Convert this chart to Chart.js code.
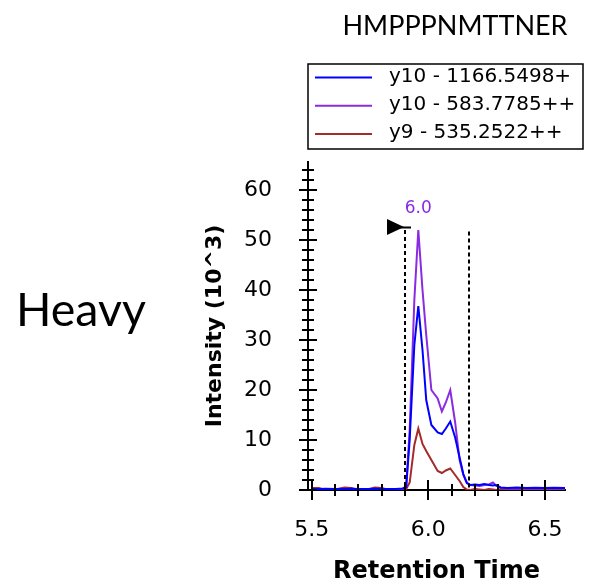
<!DOCTYPE html>
<html>
<head>
<meta charset="utf-8">
<script src="https://cdn.jsdelivr.net/npm/chart.js@4.4.1/dist/chart.umd.min.js"></script>
<style>
  body { margin: 0; background: #fff; width: 595px; height: 587px; position: relative; overflow: hidden; }
  #xic { position: absolute; left: 0; top: 0; }
  .caption { position: absolute; font-family: Lato, sans-serif; color: #000; line-height: 1; white-space: nowrap; }
  #peptide { left: 455px; top: 11px; font-size: 27px; transform: translateX(-50%); }
  #label { left: 16px; top: 285px; font-size: 46.5px; }
</style>
</head>
<body>
<canvas id="xic" width="595" height="587"></canvas>
<div class="caption" id="peptide">HMPPPNMTTNER</div>
<div class="caption" id="label">Heavy</div>
<script>
// retention time (min) of each scan
const times = [5.50, 5.53, 5.56, 5.60, 5.64, 5.67, 5.70, 5.74, 5.77, 5.80, 5.83, 5.86, 5.89,
  5.905, 5.92, 5.94, 5.957, 5.975, 5.991, 6.013, 6.04, 6.058, 6.075, 6.094, 6.115, 6.134,
  6.15, 6.165, 6.18, 6.20, 6.22, 6.24, 6.26, 6.277, 6.29, 6.31, 6.34, 6.38, 6.42, 6.46,
  6.50, 6.54, 6.586];

// intensities in 10^3
const y10Single = [0.2, 0.2, 0.25, 0.2, 0.2, 0.25, 0.2, 0.2, 0.25, 0.2, 0.2, 0.2, 0.3,
  0.6, 10, 29, 36.8, 28, 18, 13, 11.5, 11.2, 12.3, 13.7, 10.5, 6.5,
  3.2, 1.4, 1.0, 1.1, 1.0, 1.2, 1.0, 0.9, 1.0, 0.5, 0.4, 0.5, 0.4, 0.45,
  0.4, 0.45, 0.4];
const y10Double = [0.3, 0.1, 0.1, 0.15, 0.1, 0.1, 0.1, 0.15, 0.1, 0.1, 0.1, 0.15, 0.2,
  0.8, 12, 38, 52, 40, 31, 20, 18.3, 15.7, 17.5, 20, 13.5, 6,
  3.0, 1.5, 1.0, 0.9, 0.8, 1.0, 1.1, 1.5, 0.9, 0.4, 0.3, 0.3, 0.35, 0.3,
  0.3, 0.35, 0.3];
const y9Double = [0.4, 0.4, 0.0, 0.1, 0.5, 0.4, 0.0, 0.1, 0.5, 0.4, 0.0, 0.0, 0.1,
  0.2, 1.5, 9, 12.3, 9.2, 7.8, 6.0, 3.8, 3.4, 3.9, 4.3, 3.0, 1.8,
  0.6, 0.1, 0, 0.2, 0.1, 0, 0.2, 0.1, 0, 0.1, 0, 0.1, 0, 0.1,
  0, 0.1, 0];

const seriesLabels = ["y10 - 1166.5498+", "y10 - 583.7785++", "y9 - 535.2522++"];
const seriesValues = [y10Single, y10Double, y9Double];
const seriesColors = ["#0000ff", "#8a2be2", "#a52a2a"];

// integration boundaries: time and height of the dashed markers
const boundaryTimes = [5.9, 6.175];
const boundaryHeights = [52, 51.7];

const xMajorTicks = [5.5, 6.0, 6.5];
const yMajorTicks = [0, 10, 20, 30, 40, 50, 60];

const FONT = "'DejaVu Sans', sans-serif";

// crossing tick marks on both axes (major + minor)
const axisTicks = {
  id: "axisTicks",
  afterDatasetsDraw(chart) {
    const { ctx, chartArea, scales: { x, y } } = chart;
    ctx.save();
    ctx.strokeStyle = "#000";
    ctx.lineWidth = 2;
    ctx.beginPath();
    for (let v = 0; v <= y.max; v += 2) {
      const py = Math.round(y.getPixelForValue(v));
      const len = v % 10 === 0 ? 9 : 6;
      ctx.moveTo(chartArea.left - len, py);
      ctx.lineTo(chartArea.left + len, py);
    }
    for (let i = 55; i <= 65; i++) {
      const px = Math.round(x.getPixelForValue(i / 10));
      const len = i % 5 === 0 ? 10 : 6;
      ctx.moveTo(px, chartArea.bottom - len);
      ctx.lineTo(px, chartArea.bottom + len);
    }
    ctx.stroke();
    ctx.restore();
  }
};

// dashed peak boundaries, the flag on the start boundary and the apex time label
const peakMarks = {
  id: "peakMarks",
  afterDatasetsDraw(chart) {
    const { ctx, scales: { x, y } } = chart;
    ctx.save();
    ctx.strokeStyle = "#000";
    ctx.lineWidth = 2;
    ctx.setLineDash([4, 3]);
    boundaryTimes.forEach((t, i) => {
      const px = Math.round(x.getPixelForValue(t));
      ctx.beginPath();
      ctx.moveTo(px, y.getPixelForValue(boundaryHeights[i]));
      ctx.lineTo(px, y.getPixelForValue(0));
      ctx.stroke();
    });
    ctx.setLineDash([]);

    // flag
    const fx = x.getPixelForValue(boundaryTimes[0]);
    const fy = y.getPixelForValue(boundaryHeights[0]);
    ctx.fillStyle = "#000";
    ctx.beginPath();
    ctx.moveTo(fx - 18, fy - 11);
    ctx.lineTo(fx - 1, fy - 3);
    ctx.lineTo(fx - 18, fy + 5);
    ctx.closePath();
    ctx.fill();
    ctx.beginPath();
    ctx.moveTo(fx - 6, fy - 2.5);
    ctx.lineTo(fx + 6, fy - 2.5);
    ctx.stroke();

    // apex label from the tallest trace
    let best = 0, bestSeries = 0;
    seriesValues.forEach((vals, s) => vals.forEach((v, i) => {
      if (v > seriesValues[bestSeries][best]) { best = i; bestSeries = s; }
    }));
    ctx.fillStyle = seriesColors[bestSeries];
    ctx.font = "17px " + FONT;
    ctx.textAlign = "center";
    ctx.textBaseline = "middle";
    ctx.fillText(times[best].toFixed(1), x.getPixelForValue(times[best]),
      y.getPixelForValue(seriesValues[bestSeries][best]) - 21);
    ctx.restore();
  }
};

// legend in a framed box, one trace per row
const boxedLegend = {
  id: "boxedLegend",
  afterDraw(chart, args, opts) {
    const { ctx } = chart;
    ctx.save();
    ctx.strokeStyle = "#000";
    ctx.lineWidth = 1.5;
    ctx.strokeRect(opts.left, opts.top, opts.width, opts.height);
    ctx.font = "20px " + FONT;
    ctx.textBaseline = "middle";
    ctx.textAlign = "left";
    chart.data.datasets.forEach((ds, i) => {
      const ry = opts.top + opts.firstRow + i * opts.rowGap;
      ctx.strokeStyle = ds.borderColor;
      ctx.lineWidth = 2;
      ctx.beginPath();
      ctx.moveTo(opts.left + 7, ry);
      ctx.lineTo(opts.left + 64, ry);
      ctx.stroke();
      ctx.fillStyle = "#000";
      ctx.fillText(ds.label, opts.left + 81, ry - 1);
    });
    ctx.restore();
  }
};

const datasets = seriesLabels.map((label, s) => ({
  label: label,
  data: times.map((t, i) => ({ x: t, y: seriesValues[s][i] })),
  borderColor: seriesColors[s],
  borderWidth: 2,
  pointRadius: 0,
  tension: 0,
  order: s
}));

new Chart(document.getElementById("xic"), {
  type: "line",
  data: { datasets: datasets },
  plugins: [axisTicks, peakMarks, boxedLegend],
  options: {
    responsive: false,
    animation: false,
    layout: { padding: { left: 200, right: 30, top: 162, bottom: 0 } },
    plugins: {
      legend: { display: false },
      tooltip: { enabled: false },
      boxedLegend: { left: 308, top: 64, width: 275, height: 85, firstRow: 13.5, rowGap: 28.3 }
    },
    scales: {
      x: {
        type: "linear",
        min: 5.484,
        max: 6.586,
        afterFit: s => { s.height = 97; },
        afterBuildTicks: s => { s.ticks = xMajorTicks.map(v => ({ value: v })); },
        grid: { display: false },
        border: { display: true, color: "#000", width: 2 },
        ticks: {
          color: "#000",
          padding: 19,
          maxRotation: 0,
          font: { family: FONT, size: 22 },
          callback: v => Number(v).toFixed(1)
        },
        title: {
          display: true,
          text: "Retention Time",
          color: "#000",
          padding: { top: 0, bottom: 1 },
          font: { family: FONT, size: 24, weight: "bold" }
        }
      },
      y: {
        min: 0,
        max: 65.6,
        afterFit: s => { s.width = 108; },
        afterBuildTicks: s => { s.ticks = yMajorTicks.map(v => ({ value: v })); },
        grid: { display: false },
        border: { display: true, color: "#000", width: 2 },
        ticks: {
          color: "#000",
          padding: 28,
          font: { family: FONT, size: 22 },
          callback: v => String(v)
        },
        title: {
          display: true,
          text: "Intensity (10^3)",
          color: "#000",
          padding: { top: 2, bottom: 0 },
          font: { family: FONT, size: 22, weight: "bold" }
        }
      }
    }
  }
});
</script>
</body>
</html>
